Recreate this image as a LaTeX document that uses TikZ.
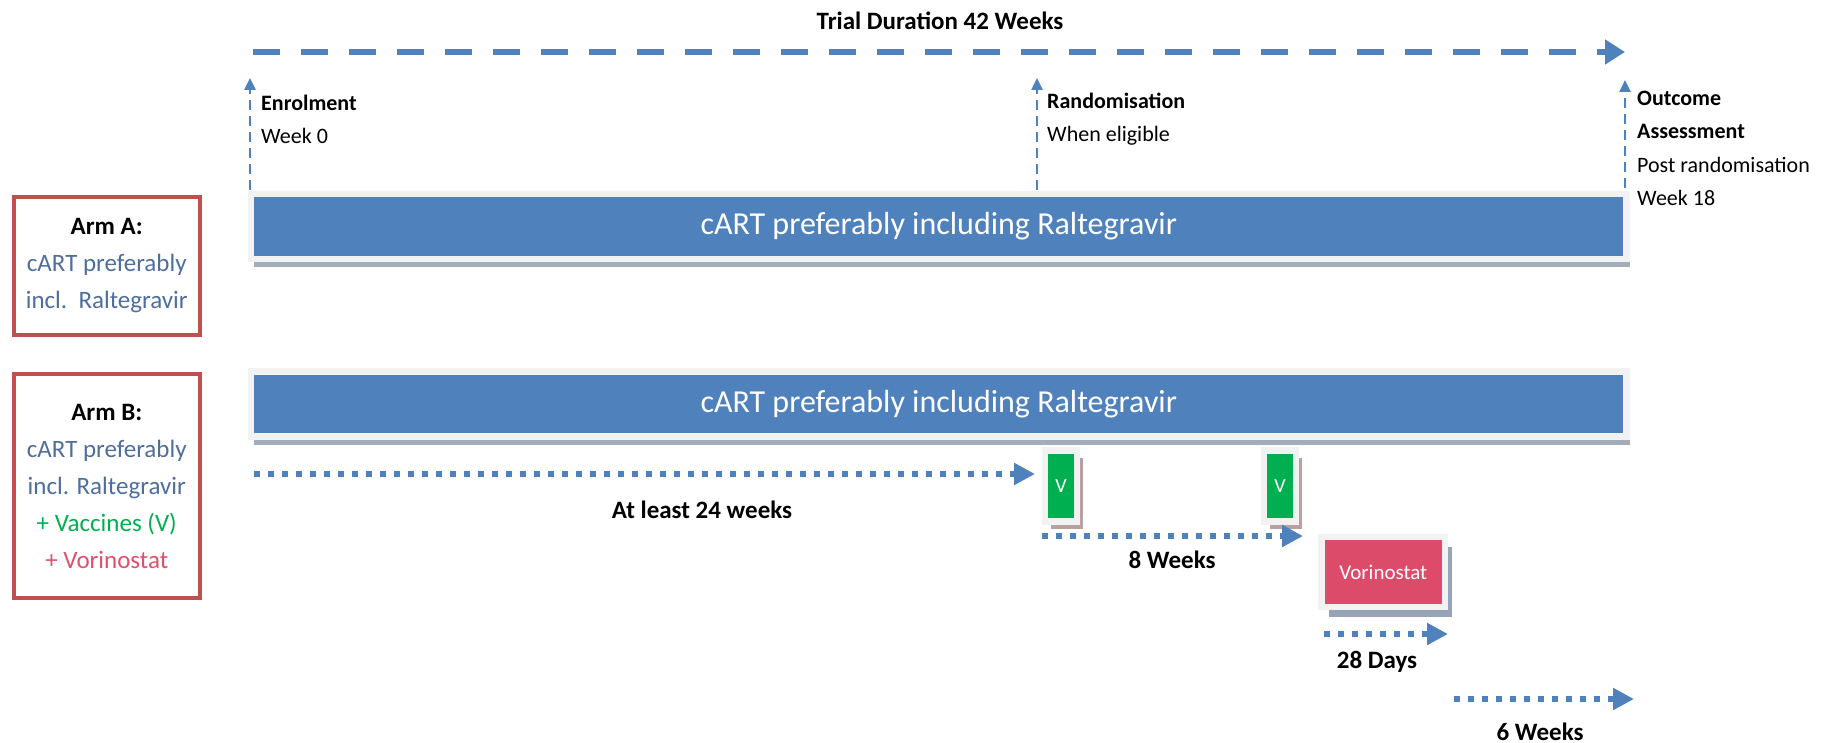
\documentclass[tikz,border=0pt]{standalone}
\usepackage{fontspec}
\setmainfont{Carlito}
\usetikzlibrary{arrows.meta, shadows}

\definecolor{barblue}{HTML}{4F81BD}
\definecolor{framegrey}{HTML}{F2F2F2}
\definecolor{barshadow}{HTML}{A3ACB9}
\definecolor{armred}{HTML}{C0504D}
\definecolor{armtext}{HTML}{4E6E9E}
\definecolor{vgreen}{HTML}{00B050}
\definecolor{vshadow}{HTML}{B9A1A1}
\definecolor{vorired}{HTML}{DC4B6A}
\definecolor{voritext}{HTML}{E0506E}
\definecolor{vorishadow}{HTML}{97A3B6}

\newcommand{\fsz}[1]{\fontsize{#1}{#1}\selectfont}

\begin{document}
\begin{tikzpicture}[x=1pt, y=-1pt,
  armbox/.style={draw=armred, line width=4pt, fill=white, minimum width=186.5pt, inner sep=0pt, align=center, text=armtext, font=\fontsize{25}{37}\selectfont},
  bar/.style={fill=barblue, draw=framegrey, line width=6.5pt, minimum width=1375.5pt, minimum height=65pt, inner sep=0pt, text=white, font=\fsz{32}, drop shadow={shadow xshift=3pt, shadow yshift=-8pt, fill=barshadow, opacity=1}},
  vbox/.style={fill=vgreen, draw=framegrey, line width=6.5pt, minimum width=32pt, minimum height=71pt, inner sep=0pt, text=white, font=\fsz{20}, drop shadow={shadow xshift=6pt, shadow yshift=-7.5pt, fill=vshadow, opacity=1}},
  vorbox/.style={fill=vorired, draw=framegrey, line width=6.5pt, minimum width=123.5pt, minimum height=70pt, inner sep=0pt, text=white, font=\fsz{21}, drop shadow={shadow xshift=7pt, shadow yshift=-10pt, fill=vorishadow, opacity=1}},
  mlab/.style={anchor=base west, inner sep=0pt, font=\fsz{22}},
  dlab/.style={anchor=base, inner sep=0pt, font=\bfseries\fsz{25}},
  duration/.style={draw=barblue, line width=6pt, dash pattern=on 27pt off 21pt, -{Triangle[length=20pt, width=24pt]}},
  mile/.style={draw=barblue, line width=2.5pt, dash pattern=on 10pt off 6pt, -{Triangle[length=12pt, width=11pt]}},
  period/.style={draw=barblue, line width=6.5pt, dash pattern=on 6pt off 8pt, -{Triangle[length=21pt, width=21pt]}}]
% Plan de l'essai
\useasboundingbox (0,0) rectangle (1823,743);

\node[dlab] (dur) at (940,30) {Trial Duration 42 Weeks};
\coordinate (durStart) at (253,52);
\coordinate (durEnd) at (1625,52);
\draw[duration] (durStart) -- (durEnd);

\coordinate (enrolBase) at (250,190);
\coordinate (enrolTip) at (250,78);
\coordinate (randBase) at (1037,190);
\coordinate (randTip) at (1037,78);
\coordinate (outBase) at (1625,188);
\coordinate (outTip) at (1625,80);
\draw[mile] (enrolBase) -- (enrolTip);
\draw[mile] (randBase) -- (randTip);
\draw[mile] (outBase) -- (outTip);

\node[mlab, font=\bfseries\fsz{22}] (enrol) at (261,111) {Enrolment};
\node[mlab] (week0) at (261,144) {Week 0};
\node[mlab, font=\bfseries\fsz{22}] (rand) at (1047,109) {Randomisation};
\node[mlab] (elig) at (1047,142) {When eligible};
\node[mlab, font=\bfseries\fsz{22}] (outc) at (1637,106) {Outcome};
\node[mlab, font=\bfseries\fsz{22}] (assess) at (1637,139) {Assessment};
\node[mlab] (postr) at (1637,173) {Post randomisation};
\node[mlab] (week18) at (1637,206) {Week 18};

\node[armbox, minimum height=138pt] (armA) at (106.75,266) {\textcolor{black}{\textbf{Arm A:}}\\cART preferably\\incl.\ \ Raltegravir};
\node[armbox, minimum height=224pt] (armB) at (106.75,486) {\textcolor{black}{\textbf{Arm B:}}\\cART preferably\\incl. Raltegravir\\\textcolor{vgreen}{+ Vaccines (V)}\\\textcolor{voritext}{+ Vorinostat}};

\node[bar] (barA) at (938.75,226.5) {cART preferably including Raltegravir};
\node[bar] (barB) at (938.75,404) {cART preferably including Raltegravir};

\node[vbox] (v1) at (1061,486) {V};
\node[vbox] (v2) at (1280,486) {V};
\node[vorbox] (vor) at (1383.25,572) {Vorinostat};

\coordinate (p1s) at (254,474);
\coordinate (p1e) at (1035,474);
\coordinate (p2s) at (1042,536);
\coordinate (p2e) at (1303,536);
\coordinate (p3s) at (1324,634);
\coordinate (p3e) at (1448,634);
\coordinate (p4s) at (1454,699);
\coordinate (p4e) at (1634,699);
\draw[period] (p1s) -- (p1e);
\draw[period] (p2s) -- (p2e);
\draw[period] (p3s) -- (p3e);
\draw[period] (p4s) -- (p4e);

\node[dlab] (wk24) at (702,518) {At least 24 weeks};
\node[dlab] (wk8) at (1172,568) {8 Weeks};
\node[dlab] (d28) at (1377,668) {28 Days};
\node[dlab] (wk6) at (1540,740) {6 Weeks};
\end{tikzpicture}
\end{document}
